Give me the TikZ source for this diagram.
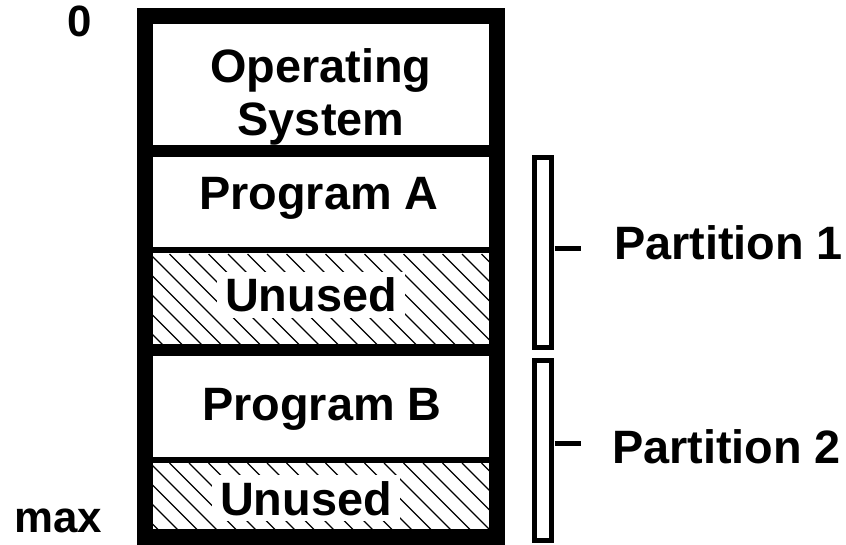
\documentclass[tikz,border=0pt]{standalone}
\usepackage{fontspec}
\setmainfont{Liberation Sans}
\begin{document}
\begin{tikzpicture}[x=1bp,y=-1bp,
  lbl/.style={font=\fontsize{47}{53}\selectfont\bfseries, inner sep=0pt, outer sep=0pt},
  addrlbl/.style={lbl, font=\fontsize{44}{50}\selectfont\bfseries},
  freelbl/.style={lbl, fill=white, inner xsep=8bp, inner ysep=6bp},
  hatchline/.style={line width=1.1bp, black},
  heavysep/.style={line width=12bp},
  lightsep/.style={line width=6bp},
  partbox/.style={draw, line width=5bp, inner sep=0pt, outer sep=0pt, minimum width=17bp},
  tick/.style={line width=5bp}
]
\useasboundingbox (0,0) rectangle (846,545);

% hatched (unused) areas
\foreach \ya/\yb in {254/343, 463/529}{
  \begin{scope}
    \clip (153,\ya) rectangle (489,\yb);
    \foreach \i in {-120,-100.5,...,500}
      \draw[hatchline] (153+\i,\ya) -- ++(120,120);
  \end{scope}
}

% memory column: region separators and outer frame
\draw[heavysep] (145,151) -- (497,151);
\draw[lightsep] (145,250.5) -- (497,250.5);
\draw[heavysep] (145,350) -- (497,350);
\draw[lightsep] (145,460) -- (497,460);
\draw[line width=16bp] (145,16) rectangle (497,537);

% region labels
\node[lbl, align=center, anchor=north] (os) at (321,49) {Operating\\System};
\node[lbl, anchor=base] (proga) at (319,210) {Program A};
\node[freelbl, anchor=base] (unuseda) at (311,312) {Unused};
\node[lbl, anchor=base] (progb) at (322,420) {Program B};
\node[freelbl, anchor=base] (unusedb) at (306,515) {Unused};

% address labels
\node[addrlbl, anchor=base] (addr0) at (80,37) {0};
\node[addrlbl, anchor=base] (addrmax) at (58,532) {max};

% partition brackets
\node[partbox, minimum height=189.5bp] (part1) at (543,252.25) {};
\node[partbox, minimum height=180bp] (part2) at (543,450.5) {};

\node[lbl, anchor=base west] (plab1) at (614,260) {Partition 1};
\node[lbl, anchor=base west] (plab2) at (612,463) {Partition 2};

\draw[tick] ([xshift=3bp,yshift=3.75bp]part1.east) -- ++(26,0) coordinate (t1end);
\draw[tick] ([xshift=3bp,yshift=7bp]part2.east) -- ++(26,0) coordinate (t2end);
\end{tikzpicture}
\end{document}
